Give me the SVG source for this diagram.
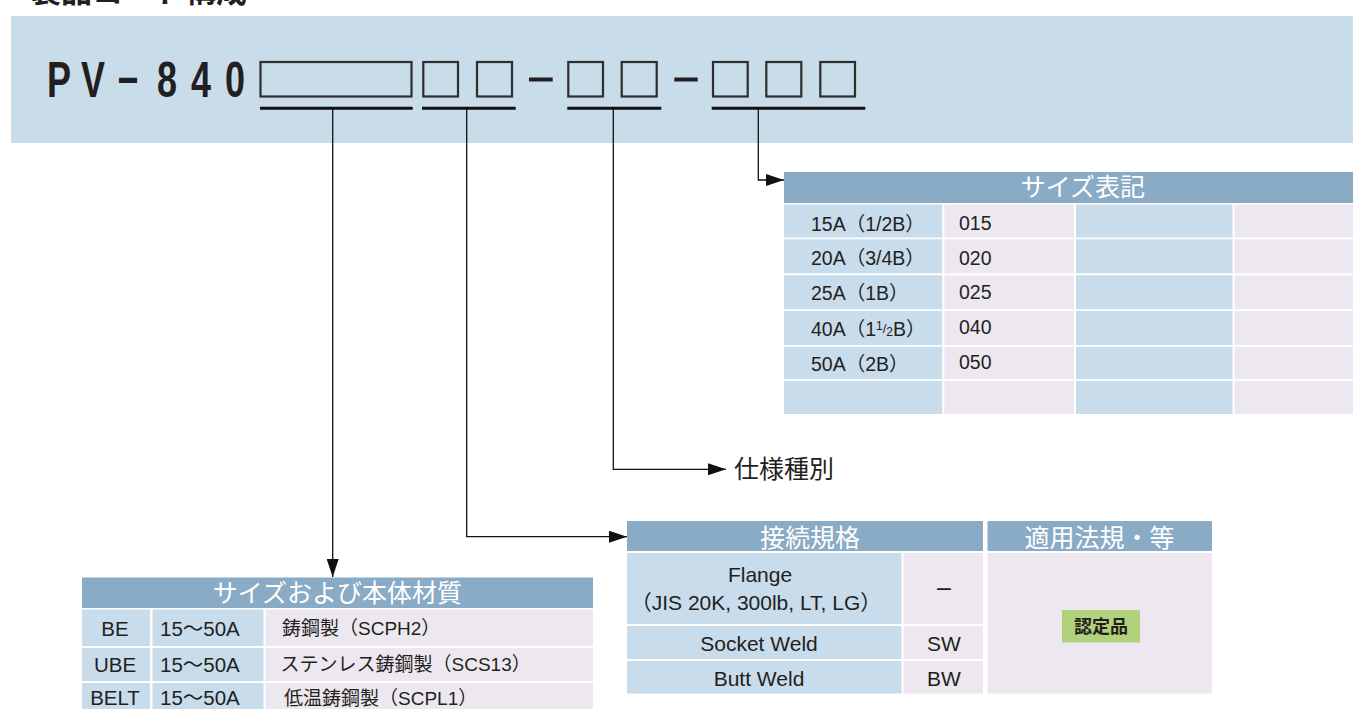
<svg xmlns="http://www.w3.org/2000/svg" width="1353" height="709" viewBox="0 0 1353 709">
<style>
.jp{font-family:"Noto Sans CJK JP","Liberation Sans",sans-serif}
.lt{font-family:"Liberation Sans","Noto Sans CJK JP",sans-serif;fill:#231f20}
.hd{font-family:"Noto Sans CJK JP",sans-serif;font-size:25px;fill:#fff;text-anchor:middle}
.hdr{fill:#8aabc6}
.cb{fill:#c8dcec}
.cl{fill:#ede8ef}
.box{fill:none;stroke:#2e2e2e;stroke-width:2.2}
.ul{stroke:#111;stroke-width:3}
.con{fill:none;stroke:#111;stroke-width:1.3}
</style>
<defs>
<marker id="ah" viewBox="0 0 18 12" refX="18" refY="6" markerWidth="18" markerHeight="12" markerUnits="userSpaceOnUse" orient="auto">
<path d="M0,0 L18,6 L0,12 z" fill="#111"/>
</marker>
</defs>
<rect width="1353" height="709" fill="#fff"/>
<text class="jp" x="30" y="2" font-size="31" font-weight="bold" fill="#231f20">製品コード構成</text>
<g id="code">
<rect x="11" y="16" width="1342" height="127" fill="#c9dcea"/>
<g transform="scale(0.72,1)">
<text class="lt" font-size="50" font-weight="bold" text-anchor="middle" x="81.9 129.2 177.8 231.9 279.2 326.4" y="97">PV−840</text>
</g>
<rect class="box" x="260.5" y="62" width="151" height="34.5"/>
<rect class="box" x="423.3" y="62" width="34.7" height="34.5"/>
<rect class="box" x="477" y="62" width="35" height="34.5"/>
<rect x="529" y="77.5" width="23.7" height="4" fill="#231f20"/>
<rect class="box" x="568.3" y="62" width="34.7" height="34.5"/>
<rect class="box" x="621.7" y="62" width="35" height="34.5"/>
<rect x="674.3" y="77.5" width="23.4" height="4" fill="#231f20"/>
<rect class="box" x="713" y="62" width="34.7" height="34.5"/>
<rect class="box" x="766.3" y="62" width="35" height="34.5"/>
<rect class="box" x="820.3" y="62" width="34.7" height="34.5"/>
<line class="ul" x1="260" y1="108.3" x2="412.7" y2="108.3"/>
<line class="ul" x1="422" y1="108.3" x2="515.7" y2="108.3"/>
<line class="ul" x1="567.3" y1="108.3" x2="661.3" y2="108.3"/>
<line class="ul" x1="711.7" y1="108.3" x2="865.3" y2="108.3"/>
</g>
<g id="connectors">
<path class="con" d="M332.7,108.3 V577" marker-end="url(#ah)"/>
<path class="con" d="M466.7,108.3 V536.7 H627" marker-end="url(#ah)"/>
<path class="con" d="M613.3,108.3 V469.3 H726" marker-end="url(#ah)"/>
<path class="con" d="M758.3,108.3 V180 H784" marker-end="url(#ah)"/>
</g>
<g id="size-table">
<rect class="hdr" x="784" y="172" width="569" height="31"/>
<text class="hd" x="1083" y="195.5">サイズ表記</text>
<g>
<rect class="cb" x="784" y="204.5" width="158.3" height="33"/><rect class="cl" x="944.3" y="204.5" width="129.7" height="33"/><rect class="cb" x="1076" y="204.5" width="156.5" height="33"/><rect class="cl" x="1234.5" y="204.5" width="118.5" height="33"/>
<rect class="cb" x="784" y="239.3" width="158.3" height="34"/><rect class="cl" x="944.3" y="239.3" width="129.7" height="34"/><rect class="cb" x="1076" y="239.3" width="156.5" height="34"/><rect class="cl" x="1234.5" y="239.3" width="118.5" height="34"/>
<rect class="cb" x="784" y="275.3" width="158.3" height="34"/><rect class="cl" x="944.3" y="275.3" width="129.7" height="34"/><rect class="cb" x="1076" y="275.3" width="156.5" height="34"/><rect class="cl" x="1234.5" y="275.3" width="118.5" height="34"/>
<rect class="cb" x="784" y="311" width="158.3" height="34"/><rect class="cl" x="944.3" y="311" width="129.7" height="34"/><rect class="cb" x="1076" y="311" width="156.5" height="34"/><rect class="cl" x="1234.5" y="311" width="118.5" height="34"/>
<rect class="cb" x="784" y="346.7" width="158.3" height="32.5"/><rect class="cl" x="944.3" y="346.7" width="129.7" height="32.5"/><rect class="cb" x="1076" y="346.7" width="156.5" height="32.5"/><rect class="cl" x="1234.5" y="346.7" width="118.5" height="32.5"/>
<rect class="cb" x="784" y="381" width="158.3" height="33"/><rect class="cl" x="944.3" y="381" width="129.7" height="33"/><rect class="cb" x="1076" y="381" width="156.5" height="33"/><rect class="cl" x="1234.5" y="381" width="118.5" height="33"/>
</g>
<g class="lt" font-size="19.5">
<text x="811" y="230.5">15A（1/2B）</text>
<text x="811" y="265">20A（3/4B）</text>
<text x="811" y="300">25A（1B）</text>
<text x="811" y="335.5">40A（1<tspan font-size="12" dy="-6">1</tspan><tspan font-size="13" dy="3">/</tspan><tspan font-size="12" dy="3">2</tspan>B）</text>
<text x="811" y="371">50A（2B）</text>
<text x="959" y="230">015</text>
<text x="959" y="264.5">020</text>
<text x="959" y="299">025</text>
<text x="959" y="334">040</text>
<text x="959" y="368.5">050</text>
</g>
</g>
<g id="spec-type">
<text class="jp" x="734" y="477.5" font-size="25" fill="#231f20">仕様種別</text>
</g>
<g id="connection-table">
<rect class="hdr" x="627" y="521" width="356" height="30"/>
<text class="hd" x="810" y="546.5">接続規格</text>
<rect class="cb" x="627" y="553" width="274.5" height="71"/>
<rect class="cl" x="903.5" y="553" width="79.5" height="71"/>
<rect class="cb" x="627" y="626" width="274.5" height="33"/>
<rect class="cl" x="903.5" y="626" width="79.5" height="33"/>
<rect class="cb" x="627" y="661" width="274.5" height="32.5"/>
<rect class="cl" x="903.5" y="661" width="79.5" height="32.5"/>
<g class="lt" font-size="21" text-anchor="middle">
<text x="760" y="581.5">Flange</text>
<text x="756" y="610">（JIS 20K, 300lb, LT, LG）</text>
<text x="759" y="651">Socket Weld</text>
<text x="759" y="686">Butt Weld</text>
<text x="944" y="651">SW</text>
<text x="944" y="686">BW</text>
<text x="944" y="596" font-size="25">–</text>
</g>
</g>
<g id="regulation-table">
<rect class="hdr" x="987.5" y="521" width="224.5" height="30"/>
<text class="hd" x="1099.5" y="546.5">適用法規・等</text>
<rect class="cl" x="987.5" y="553" width="224.5" height="140.5"/>
<rect x="1062" y="610" width="78" height="32.5" fill="#b2d17c"/>
<text class="jp" x="1101" y="632.5" font-size="18" font-weight="bold" fill="#231f20" text-anchor="middle">認定品</text>
</g>
<g id="material-table">
<rect class="hdr" x="82" y="577.5" width="511" height="30.5"/>
<text class="hd" x="337.5" y="601.5">サイズおよび本体材質</text>
<rect class="cb" x="82" y="609.5" width="68" height="36.5"/><rect class="cb" x="152.5" y="609.5" width="111" height="36.5"/><rect class="cl" x="265.5" y="609.5" width="327.5" height="36.5"/>
<rect class="cb" x="82" y="648" width="68" height="33"/><rect class="cb" x="152.5" y="648" width="111" height="33"/><rect class="cl" x="265.5" y="648" width="327.5" height="33"/>
<rect class="cb" x="82" y="683" width="68" height="26"/><rect class="cb" x="152.5" y="683" width="111" height="26"/><rect class="cl" x="265.5" y="683" width="327.5" height="26"/>
<g class="lt" font-size="20.5">
<text x="115" y="636" text-anchor="middle">BE</text>
<text x="115" y="671.5" text-anchor="middle">UBE</text>
<text x="115" y="705" text-anchor="middle">BELT</text>
<text x="160" y="636">15〜50A</text>
<text x="160" y="671.5">15〜50A</text>
<text x="160" y="705">15〜50A</text>
</g>
<g class="lt" font-size="19">
<text x="282" y="635">鋳鋼製（SCPH2）</text>
<text x="280.5" y="671">ステンレス鋳鋼製（SCS13）</text>
<text x="284" y="705">低温鋳鋼製（SCPL1）</text>
</g>
</g>
</svg>
